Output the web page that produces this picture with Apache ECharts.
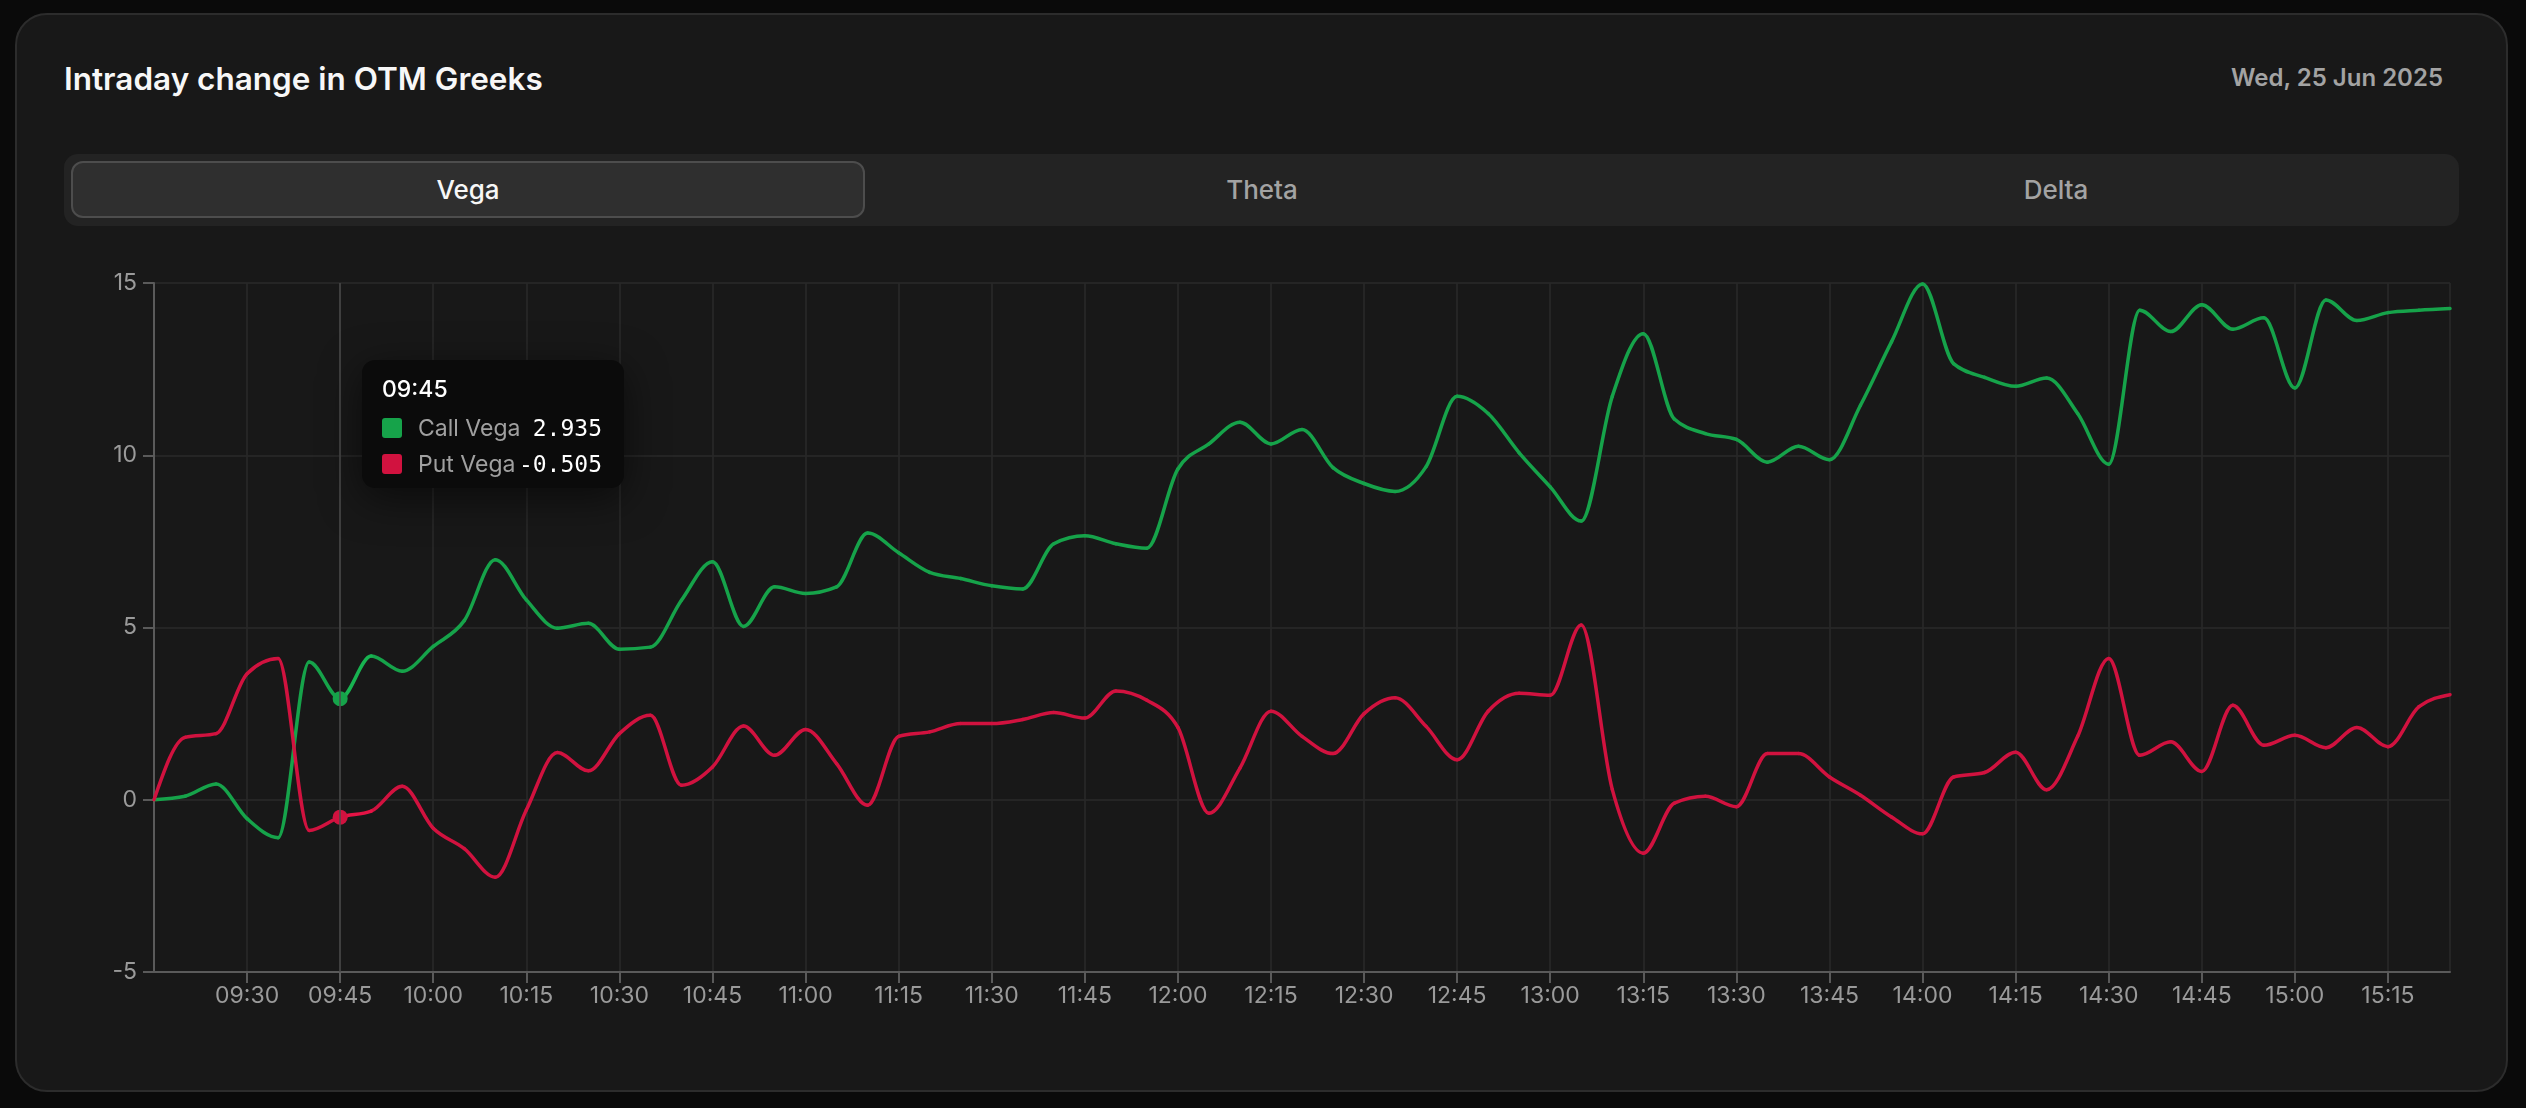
<!DOCTYPE html>
<html>
<head>
<meta charset="utf-8">
<title>Intraday change in OTM Greeks</title>
<script src="https://cdn.jsdelivr.net/npm/echarts@6/dist/echarts.min.js"></script>
<style>
html, body { margin:0; padding:0; width:2526px; height:1108px; overflow:hidden; background:#0a0a0a; font-family:Inter, "Noto Sans", sans-serif; }
.card { position:absolute; left:15px; top:13px; width:2493px; height:1079px; box-sizing:border-box; background:#181818; border:2px solid #2c2c2c; border-radius:32px; }
.title { position:absolute; left:64px; top:60px; font-size:31.5px; line-height:38px; font-weight:600; color:#f7f7f7; }
.date { position:absolute; right:83px; top:63px; font-size:24px; line-height:30px; font-weight:600; color:#a3a3a3; }
.tabs { position:absolute; left:64px; top:154px; width:2395px; height:72px; background:#232323; border-radius:14px; }
.tab { position:absolute; top:7px; width:794px; height:57px; box-sizing:border-box; display:flex; align-items:center; justify-content:center; font-size:26px; font-weight:500; color:#a3a3a3; }
.tab.active { background:#2f2f2f; border:2px solid #4d4d4d; border-radius:12px; color:#f7f7f7; }
#chart { position:absolute; left:0; top:0; width:2526px; height:1108px; z-index:2; }
</style>
</head>
<body>
<div class="card"></div>
<div class="title">Intraday change in OTM Greeks</div>
<div class="date">Wed, 25 Jun 2025</div>
<div class="tabs">
  <div class="tab active" style="left:7px">Vega</div>
  <div class="tab" style="left:801px">Theta</div>
  <div class="tab" style="left:1595px">Delta</div>
</div>
<div id="chart"></div>
<script>
var times = [
  '09:15','09:20','09:25','09:30','09:35','09:40','09:45','09:50','09:55',
  '10:00','10:05','10:10','10:15','10:20','10:25','10:30','10:35','10:40','10:45','10:50','10:55',
  '11:00','11:05','11:10','11:15','11:20','11:25','11:30','11:35','11:40','11:45','11:50','11:55',
  '12:00','12:05','12:10','12:15','12:20','12:25','12:30','12:35','12:40','12:45','12:50','12:55',
  '13:00','13:05','13:10','13:15','13:20','13:25','13:30','13:35','13:40','13:45','13:50','13:55',
  '14:00','14:05','14:10','14:15','14:20','14:25','14:30','14:35','14:40','14:45','14:50','14:55',
  '15:00','15:05','15:10','15:15','15:20','15:25'
];

var callVega = [
  0.0, 0.1, 0.46, -0.55, -1.1, 4.0, 2.935, 4.17, 3.73,
  4.45, 5.2, 6.97, 5.8, 4.98, 5.12, 4.37, 4.43, 5.79, 6.91, 5.03, 6.18,
  5.99, 6.18, 7.74, 7.17, 6.6, 6.42, 6.21, 6.12, 7.43, 7.66, 7.43, 7.3,
  9.6, 10.33, 10.96, 10.33, 10.75, 9.64, 9.18, 8.95, 9.67, 11.71, 11.21, 10.07,
  9.08, 8.09, 11.71, 13.53, 11.05, 10.63, 10.46, 9.8, 10.26, 9.87, 11.45, 13.29,
  14.97, 12.66, 12.26, 12.0, 12.24, 11.21, 9.74, 14.21, 13.59, 14.37, 13.66, 13.99,
  11.95, 14.51, 13.91, 14.14, 14.21, 14.26
];

var putVega = [
  0.0, 1.81, 1.92, 3.66, 4.1, -0.89, -0.505, -0.33, 0.39,
  -0.83, -1.42, -2.25, -0.3, 1.37, 0.84, 1.92, 2.45, 0.42, 0.95, 2.14, 1.29,
  2.04, 1.05, -0.16, 1.84, 1.97, 2.21, 2.21, 2.33, 2.53, 2.37, 3.16, 2.89,
  2.1, -0.39, 0.92, 2.57, 1.84, 1.34, 2.5, 2.96, 2.13, 1.16, 2.57, 3.09,
  3.03, 5.07, 0.3, -1.55, -0.1, 0.1, -0.2, 1.34, 1.34, 0.66, 0.13, -0.5,
  -0.99, 0.66, 0.79, 1.38, 0.29, 1.84, 4.1, 1.29, 1.68, 0.82, 2.74, 1.58,
  1.87, 1.51, 2.1, 1.54, 2.7, 3.05
];

var seriesNames = ['Call Vega', 'Put Vega'];
var seriesColors = ['#16a34a', '#d1123f'];
var hoverIndex = 6;

var axisGrey = '#5a5a5a';
var labelGrey = '#9a9a9a';
var gridGrey = '#2a2a2a';
var lineW = 3.5;

function every15(i) { return i > 0 && i % 3 === 0; }
function gridCols(i) { return i % 3 === 0 || i === times.length - 1; }

// monotone cubic (like d3 curveMonotoneX), done in pixel space
function sign(v) { return v < 0 ? -1 : 1; }
function tangentAt(pts, i) {
    var n = pts.length;
    if (n < 2) return 0;
    if (i > 0 && i < n - 1) {
        var h0 = pts[i][0] - pts[i - 1][0], h1 = pts[i + 1][0] - pts[i][0];
        var s0 = (pts[i][1] - pts[i - 1][1]) / h0;
        var s1 = (pts[i + 1][1] - pts[i][1]) / h1;
        var p = (s0 * h1 + s1 * h0) / (h0 + h1);
        return (sign(s0) + sign(s1)) * Math.min(Math.abs(s0), Math.abs(s1), 0.5 * Math.abs(p)) || 0;
    }
    if (n === 2) return (pts[1][1] - pts[0][1]) / (pts[1][0] - pts[0][0]);
    if (i === 0) {
        var h = pts[1][0] - pts[0][0];
        return (3 * (pts[1][1] - pts[0][1]) / h - tangentAt(pts, 1)) / 2;
    }
    var he = pts[n - 1][0] - pts[n - 2][0];
    return (3 * (pts[n - 1][1] - pts[n - 2][1]) / he - tangentAt(pts, n - 2)) / 2;
}

function curveSeries(name, values, color) {
    return {
        name: name,
        type: 'custom',
        z: 2,
        silent: true,
        encode: { x: 0, y: 1 },
        data: values.map(function (v, i) { return [i, v]; }),
        renderItem: function (params, api) {
            var i = params.dataIndex;
            if (i >= values.length - 1) return null;
            var pts = values.map(function (v, k) { return api.coord([k, v]); });
            var a = pts[i], b = pts[i + 1];
            var t0 = tangentAt(pts, i), t1 = tangentAt(pts, i + 1);
            var dx = (b[0] - a[0]) / 3;
            return {
                type: 'bezierCurve',
                shape: {
                    x1: a[0], y1: a[1],
                    cpx1: a[0] + dx, cpy1: a[1] + dx * t0,
                    cpx2: b[0] - dx, cpy2: b[1] - dx * t1,
                    x2: b[0], y2: b[1]
                },
                style: { stroke: color, lineWidth: lineW, fill: null, lineCap: 'round' }
            };
        }
    };
}

function pointSeries(name, values, color) {
    // invisible carrier for the tooltip and the hovered dot
    return {
        name: name,
        type: 'line',
        z: 3,
        data: values,
        showSymbol: false,
        symbol: 'circle',
        symbolSize: 15,
        color: color,
        lineStyle: { width: lineW, opacity: 0 },
        emphasis: { scale: 1, lineStyle: { width: lineW, opacity: 0 } }
    };
}

var chart = echarts.init(document.getElementById('chart'));

var option = {
    animation: false,
    grid: { left: 154, right: 76, top: 283, bottom: 136 },
    tooltip: {
        trigger: 'axis',
        triggerOn: 'none',
        alwaysShowContent: true,
        transitionDuration: 0,
        position: [362, 360],
        backgroundColor: '#0b0b0b',
        borderWidth: 0,
        padding: [14, 22, 6, 20],
        extraCssText: 'width:262px;box-sizing:border-box;border-radius:13px;box-shadow:0 10px 40px rgba(0,0,0,0.55);',
        axisPointer: {
            type: 'line',
            animation: false,
            lineStyle: { color: '#4a4a4a', width: 1.5, type: 'solid' }
        },
        formatter: function (params) {
            var rows = params.filter(function (p) { return p.seriesType === 'line'; });
            var h = '<div style="font:500 23px Inter;color:#fff;line-height:30px;margin-bottom:6px">' + rows[0].axisValue + '</div>';
            rows.forEach(function (p) {
                h += '<div style="display:flex;align-items:center;height:36px">' +
                    '<span style="display:inline-block;width:20px;height:20px;border-radius:3px;background:' + p.color + '"></span>' +
                    '<span style="margin-left:16px;color:#a0a0a0;font:400 23px Inter">' + p.seriesName + '</span>' +
                    '<span style="margin-left:auto;color:#fff;font:400 23px \'DejaVu Sans Mono\', monospace">' + p.value.toFixed(3) + '</span></div>';
            });
            return h;
        }
    },
    xAxis: {
        type: 'category',
        boundaryGap: false,
        data: times,
        axisLine: { onZero: false, lineStyle: { color: axisGrey, width: 2 } },
        axisTick: { show: true, interval: every15, length: 11, lineStyle: { color: axisGrey, width: 2 } },
        axisLabel: { interval: every15, color: labelGrey, fontSize: 23, fontFamily: 'Inter', margin: 13 },
        splitLine: { show: true, interval: gridCols, lineStyle: { color: gridGrey, width: 1.5 } }
    },
    yAxis: {
        type: 'value',
        min: -5,
        max: 15,
        interval: 5,
        axisLine: { show: true, lineStyle: { color: axisGrey, width: 2 } },
        axisTick: { show: true, length: 11, lineStyle: { color: axisGrey, width: 2 } },
        axisLabel: { color: labelGrey, fontSize: 23, fontFamily: 'Inter', margin: 17 },
        splitLine: { show: true, lineStyle: { color: gridGrey, width: 1.5 } }
    },
    series: [
        pointSeries(seriesNames[0], callVega, seriesColors[0]),
        pointSeries(seriesNames[1], putVega, seriesColors[1]),
        curveSeries(seriesNames[0] + ' curve', callVega, seriesColors[0]),
        curveSeries(seriesNames[1] + ' curve', putVega, seriesColors[1])
    ]
};

chart.setOption(option);
chart.dispatchAction({ type: 'showTip', seriesIndex: 0, dataIndex: hoverIndex });
</script>
</body>
</html>
